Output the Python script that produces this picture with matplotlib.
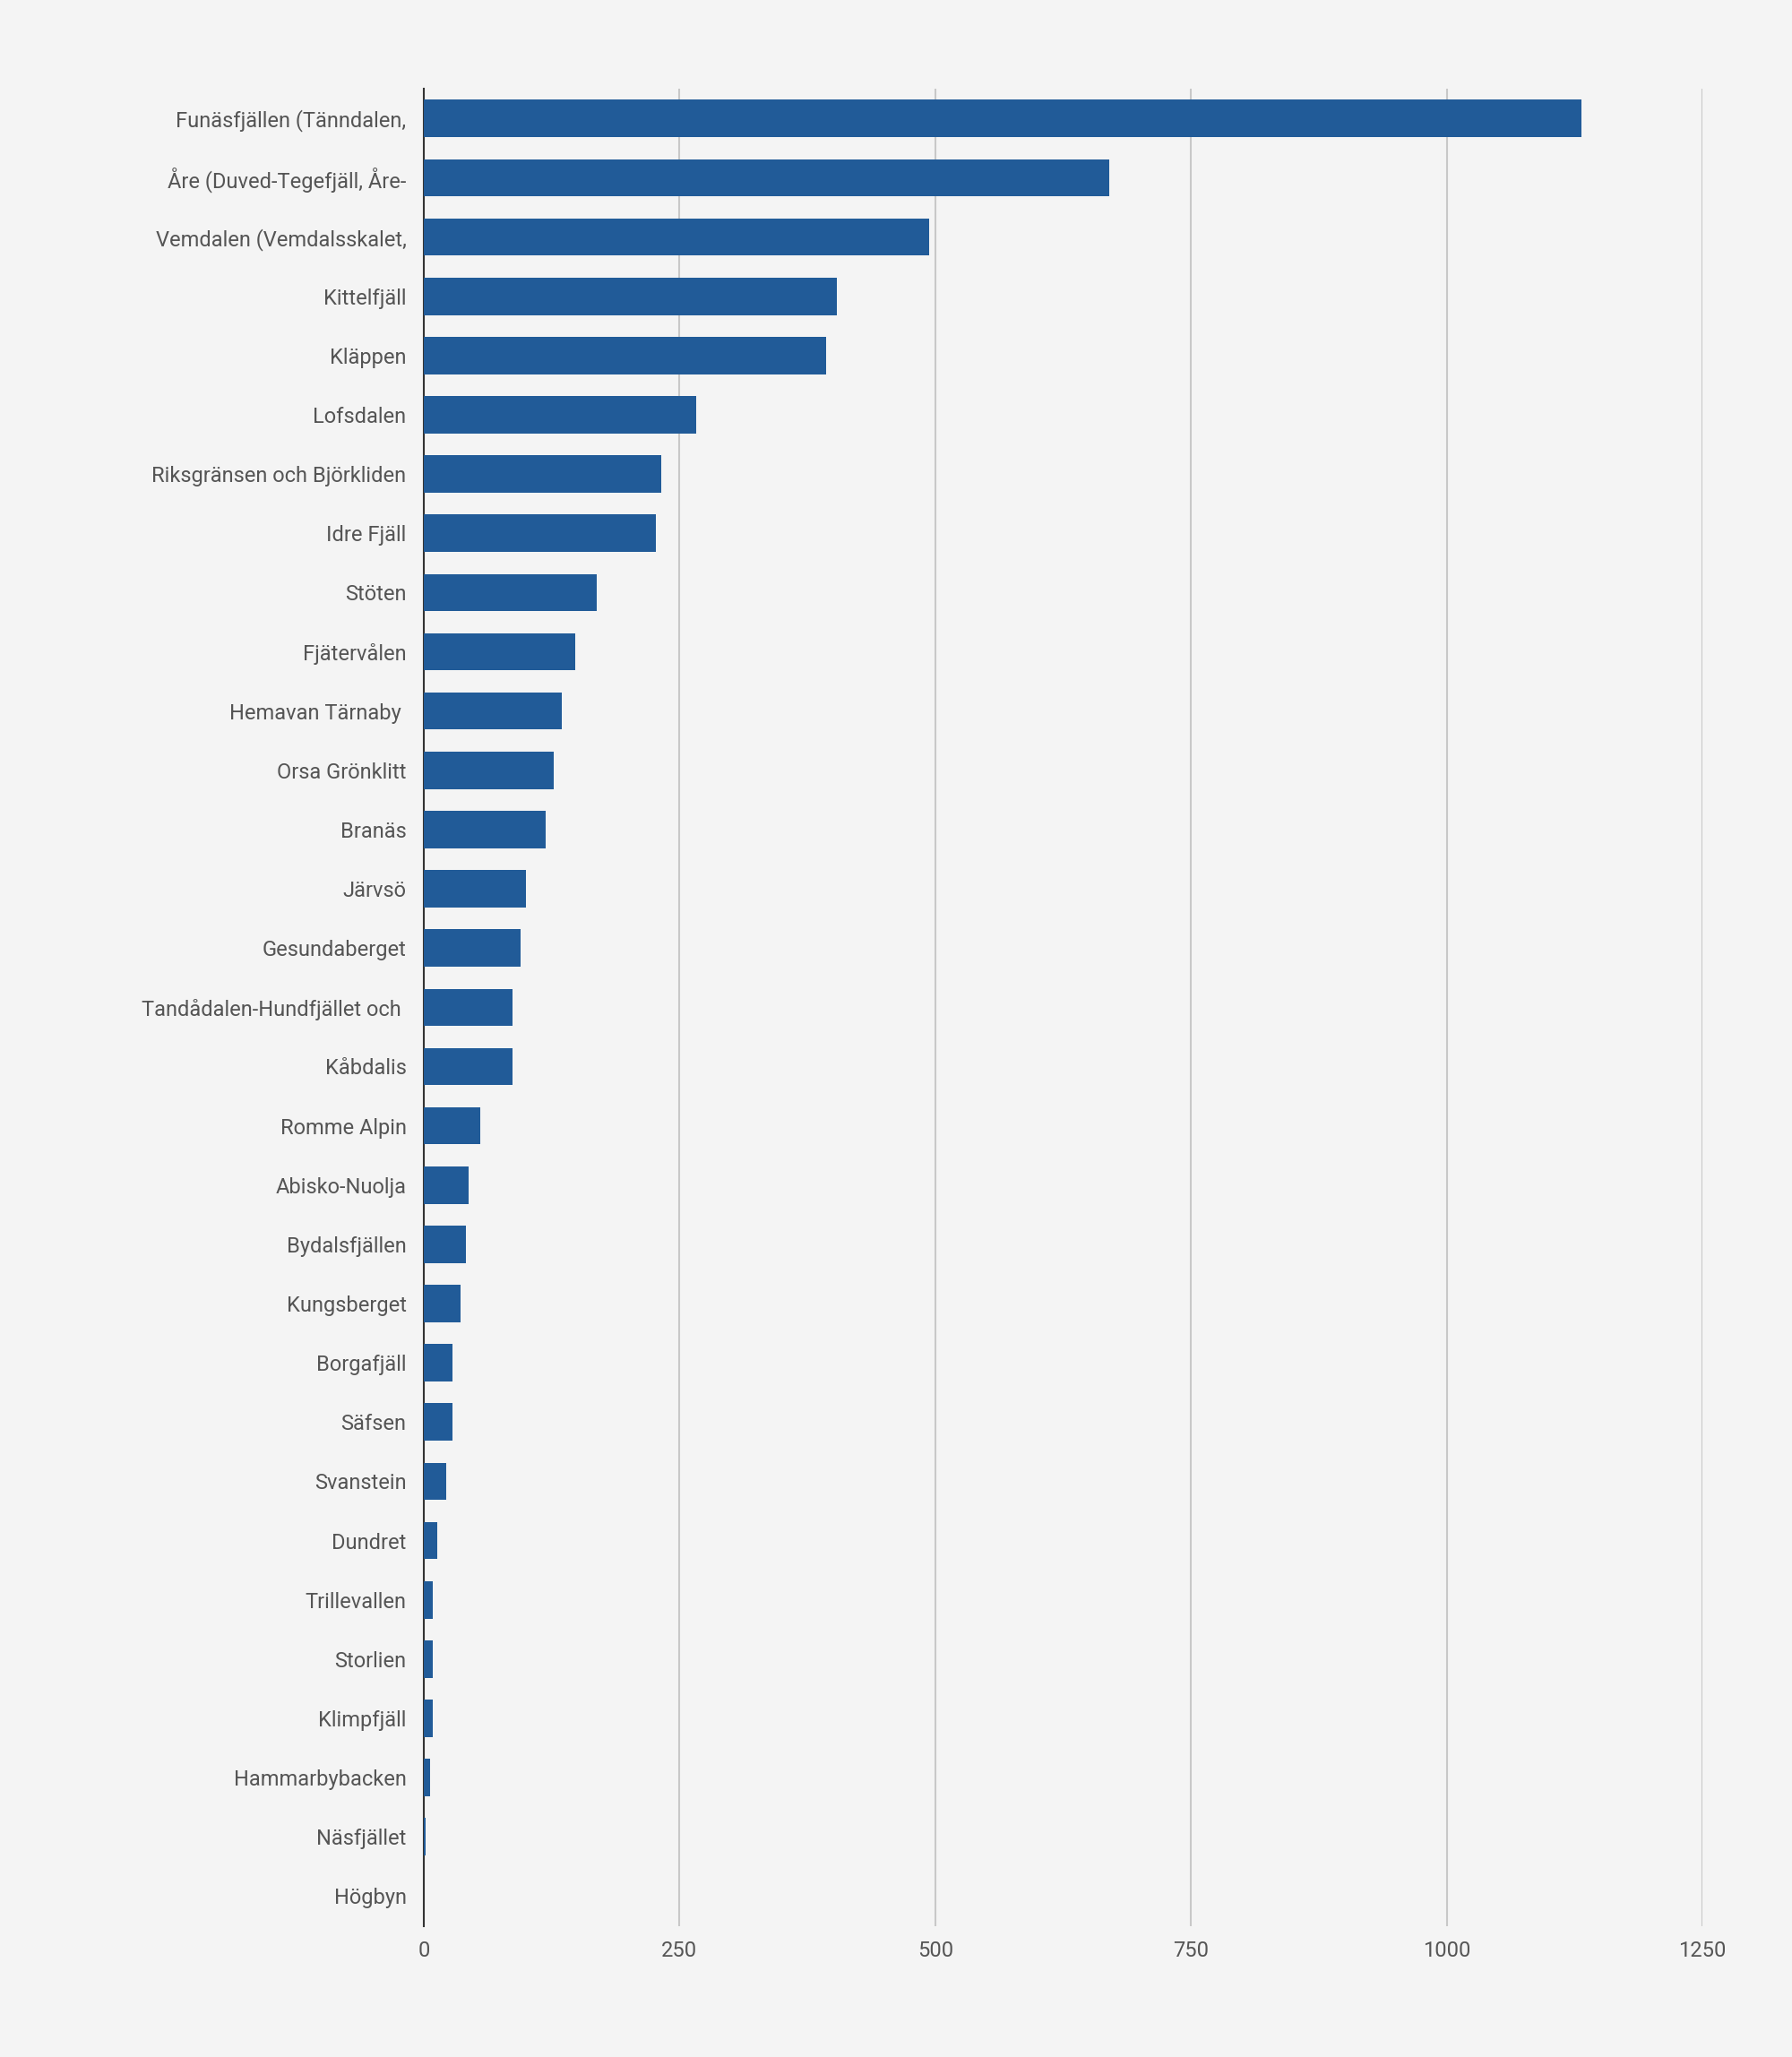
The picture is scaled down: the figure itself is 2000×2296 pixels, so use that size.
import matplotlib.pyplot as plt

orter = ["Funäsfjällen (Tänndalen,", "Åre (Duved-Tegefjäll, Åre-", "Vemdalen (Vemdalsskalet,",
         "Kittelfjäll", "Kläppen", "Lofsdalen", "Riksgränsen och Björkliden", "Idre Fjäll",
         "Stöten", "Fjätervålen", "Hemavan Tärnaby ", "Orsa Grönklitt", "Branäs", "Järvsö",
         "Gesundaberget", "Tandådalen-Hundfjället och ", "Kåbdalis", "Romme Alpin",
         "Abisko-Nuolja", "Bydalsfjällen", "Kungsberget", "Borgafjäll", "Säfsen", "Svanstein",
         "Dundret", "Trillevallen", "Storlien", "Klimpfjäll", "Hammarbybacken", "Näsfjället",
         "Högbyn"]
varden = [1132, 670, 494, 404, 393, 266, 232, 227, 169, 148, 135, 127, 119, 100, 95, 87, 87,
          55, 44, 41, 36, 28, 28, 22, 13, 9, 9, 9, 6, 2, 0]
ticks = [0, 250, 500, 750, 1000, 1250]

plt.rcParams['font.family'] = ['Roboto', 'DejaVu Sans']
fig = plt.figure(figsize=(20, 22.96), dpi=100, facecolor='#f4f4f4')
ax = fig.add_axes([0.2365, 0.0638, 0.7135, 0.893])
ax.set_facecolor('#f4f4f4')

y = list(range(len(orter)))
ax.barh(y, varden, height=0.63, color='#215b98', zorder=3)
ax.set_ylim(len(orter) - 0.5, -0.5)
ax.set_xlim(0, 1250)
ax.set_yticks(y)
ax.set_yticklabels(orter, fontsize=17, color='#555555')
ax.set_xticks(ticks)
ax.set_xticklabels([str(t) for t in ticks], fontsize=17, color='#555555')
ax.tick_params(length=0, pad=12)
ax.tick_params(axis='y', pad=14)
ax.grid(axis='x', color='#c8c8c8', linewidth=1.5, zorder=0)
for s in ['top', 'right', 'bottom']:
    ax.spines[s].set_visible(False)
ax.spines['left'].set_color('#333333')
ax.spines['left'].set_linewidth(1.5)

fig.savefig('out.png', facecolor=fig.get_facecolor())
